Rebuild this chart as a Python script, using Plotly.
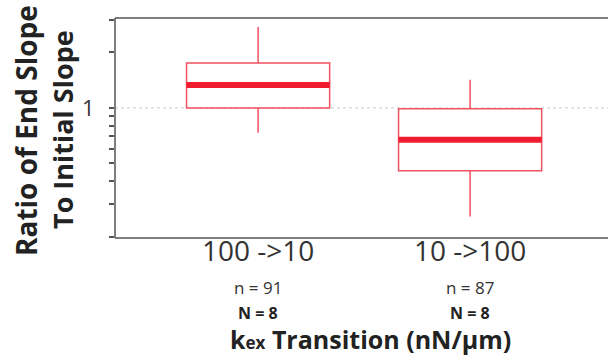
import plotly.graph_objects as go

categories = ["100 ->10", "10 ->100"]
lower_whisker = [0.733, 0.258]
q1_vals = [1.0, 0.457]
medians = [1.33, 0.671]
q3_vals = [1.75, 0.988]
upper_whisker = [2.74, 1.42]
n_cells = ["n = 91", "n = 87"]
n_animals = ["N = 8", "N = 8"]
minor_ticks = [0.2, 0.3, 0.4, 0.5, 0.6, 0.7, 0.8, 0.9, 2, 3]

RED_LIGHT = "#f2525f"
RED = "#ee1c2e"
AXIS = "#555"

L, R, T, B = 115, 10, 18, 120
PW = 608 - L - R
PH = 358 - T - B
EXT = 1 + R / PW  # paper x at the page's right edge

fig = go.Figure()
fig.add_trace(go.Box(
    x=categories, q1=q1_vals, median=medians, q3=q3_vals,
    lowerfence=lower_whisker, upperfence=upper_whisker,
    width=0.675, whiskerwidth=0, fillcolor="rgba(255,255,255,0)",
    line=dict(color=RED_LIGHT, width=1.5), boxpoints=False,
    hoverinfo="skip", showlegend=False,
))
# thick median bars
fig.add_trace(go.Box(
    x=categories, q1=medians, median=medians, q3=medians,
    lowerfence=medians, upperfence=medians,
    width=0.675, whiskerwidth=0, fillcolor="rgba(255,255,255,0)",
    line=dict(color=RED, width=6), boxpoints=False,
    hoverinfo="skip", showlegend=False,
))

fig.update_layout(
    width=608, height=358,
    margin=dict(l=L, r=R, t=T, b=B),
    paper_bgcolor="white", plot_bgcolor="white",
    font=dict(family="Open Sans", color="#333"),
    xaxis=dict(
        type="category", range=[-0.675, -0.675 + PW / 212],
        showline=False, ticks="", showgrid=False, zeroline=False,
        tickfont=dict(size=28, color="#333", family="Open Sans"),
        ticklabelstandoff=-6,
    ),
    yaxis=dict(
        type="log", range=[-0.705, 0.487],
        showline=False,
        tickvals=[1], ticktext=["1"], ticks="outside", ticklen=5,
        tickcolor=AXIS, tickwidth=1.5,
        showgrid=False, zeroline=False,
        tickfont=dict(size=22, color="#333", family="Open Sans"),
        ticklabelstandoff=10,
        minor=dict(tickvals=minor_ticks, ticks="outside", ticklen=5,
                   tickcolor=AXIS, tickwidth=1.5, showgrid=False),
    ),
    shapes=[
        # dotted reference line at ratio 1
        dict(type="line", xref="paper", yref="paper", x0=0, x1=EXT,
             y0=0.705 / 1.192, y1=0.705 / 1.192,
             line=dict(color="#c8c8c8", width=1, dash="dot"), layer="below"),
        dict(type="line", xref="paper", yref="paper", x0=0, x1=0, y0=0, y1=1,
             line=dict(color=AXIS, width=1.5)),
        dict(type="line", xref="paper", yref="paper", x0=0, x1=EXT, y0=1, y1=1,
             line=dict(color=AXIS, width=1.5)),
        dict(type="line", xref="paper", yref="paper", x0=0, x1=EXT, y0=0, y1=0,
             line=dict(color=AXIS, width=1.5)),
    ],
)

# n and N labels under categories
for i, cat in enumerate(categories):
    fig.add_annotation(x=cat, xref="x", y=-0.225, yref="paper",
                       text=n_cells[i], showarrow=False,
                       font=dict(size=17, color="#333", family="Open Sans"),
                       xanchor="center", yanchor="middle")
    fig.add_annotation(x=cat, xref="x", y=-0.34, yref="paper",
                       text="<b>" + n_animals[i] + "</b>", showarrow=False,
                       font=dict(size=16, color="#222", family="Open Sans"),
                       xanchor="center", yanchor="middle")

# x title
fig.add_annotation(x=(370 - L) / PW, xref="paper", y=-0.46, yref="paper",
                   text="<b>k<span style='font-size:17px'>ex</span> Transition (nN/µm)</b>",
                   showarrow=False, font=dict(size=25, color="#222", family="Open Sans"),
                   xanchor="center", yanchor="middle")

# y title (two lines)
fig.add_annotation(x=(26 - L) / PW, xref="paper", y=(238 - 131) / PH, yref="paper",
                   text="<b>Ratio of End Slope</b>", textangle=-90, showarrow=False,
                   font=dict(size=28, color="#222", family="Open Sans"),
                   xanchor="center", yanchor="middle")
fig.add_annotation(x=(62 - L) / PW, xref="paper", y=(238 - 130) / PH, yref="paper",
                   text="<b>To Initial Slope</b>", textangle=-90, showarrow=False,
                   font=dict(size=27, color="#222", family="Open Sans"),
                   xanchor="center", yanchor="middle")

fig.write_html("out.html")
